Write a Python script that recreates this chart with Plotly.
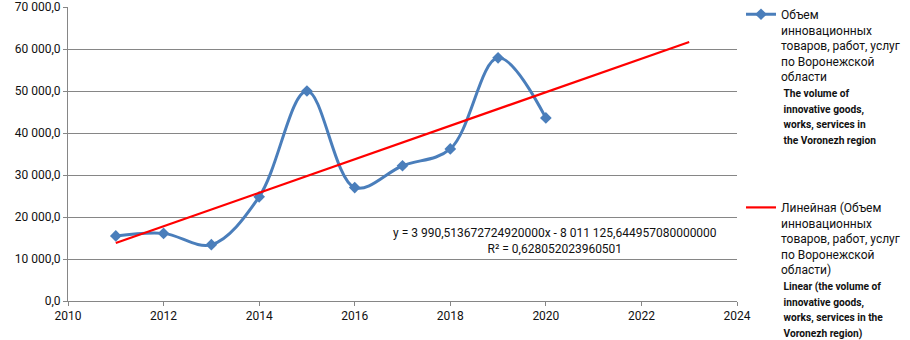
import plotly.graph_objects as go

years = [2011, 2012, 2013, 2014, 2015, 2016, 2017, 2018, 2019, 2020]
volume = [15500, 16100, 13400, 24800, 50000, 27000, 32200, 36200, 57900, 43600]

# trend line coefficients as printed on the chart
trend_slope = 3990.513672724920000
trend_intercept = -8011125.644957080000000
trend_years = [2011, 2023]
trend_values = [trend_slope * x + trend_intercept for x in trend_years]

eq_text = "y = 3 990,513672724920000x - 8 011 125,644957080000000<br>R² = 0,628052023960501"

EN = "<span style='font-size:10.2px'><b>{}</b></span>"
name1 = ("Объем<br>инновационных<br>товаров, работ, услуг<br>по Воронежской<br>области<br>"
         + "<br>".join(EN.format(s) for s in [" The volume of", " innovative goods,",
                                               " works, services in", " the Voronezh region"]))
name2 = ("Линейная (Объем<br>инновационных<br>товаров, работ, услуг<br>по Воронежской<br>области)<br>"
         + "<br>".join(EN.format(s) for s in [" Linear (the volume of", " innovative goods,",
                                               " works, services in the", " Voronezh region)"]))

BLUE = "#4a7ebb"
fig = go.Figure()
fig.add_trace(go.Scatter(
    x=years, y=volume, mode="lines+markers", name=name1,
    line=dict(color=BLUE, width=3, shape="spline", smoothing=1.0),
    marker=dict(symbol="diamond", size=9, color=BLUE),
    legend="legend"))
fig.add_trace(go.Scatter(
    x=trend_years, y=trend_values, mode="lines", name=name2,
    line=dict(color="#ff0000", width=2.2),
    legend="legend2"))

fig.add_annotation(x=0.728, y=0.205, xref="paper", yref="paper", text=eq_text,
                   showarrow=False, align="center", xanchor="center", yanchor="middle",
                   font=dict(family="Roboto", size=12, color="#111"))

legend_font = dict(family="Roboto", size=12, color="#111")
fig.update_layout(
    width=910, height=340,
    margin=dict(l=68, r=173, t=7, b=39, autoexpand=False),
    paper_bgcolor="white", plot_bgcolor="white",
    separators=", ",
    showlegend=True,
    legend=dict(x=1.006, y=1.024, xanchor="left", yanchor="top", font=legend_font,
                valign="top", itemwidth=30, bgcolor="rgba(0,0,0,0)"),
    legend2=dict(x=1.006, y=0.367, xanchor="left", yanchor="top", font=legend_font,
                 valign="top", itemwidth=30, bgcolor="rgba(0,0,0,0)"),
    xaxis=dict(range=[2010, 2024], dtick=2, tick0=2010, showgrid=False,
               showline=True, linecolor="#868686", linewidth=1,
               ticks="outside", ticklen=4, tickcolor="#868686", automargin=False,
               ticklabeloverflow="allow",
               tickfont=dict(family="Roboto", size=12, color="#111"),
               zeroline=False),
    yaxis=dict(range=[0, 70000], dtick=10000, tickformat=",.1f",
               showgrid=True, gridcolor="#868686", gridwidth=1,
               showline=True, linecolor="#868686", linewidth=1,
               ticks="outside", ticklen=4, tickcolor="#868686", automargin=False,
               ticklabeloverflow="allow",
               tickfont=dict(family="Roboto", size=12, color="#111"),
               zeroline=False),
)

fig.write_html("out.html", config={"displayModeBar": False},
               post_script="document.body.style.margin='0';document.body.style.overflow='hidden';")
